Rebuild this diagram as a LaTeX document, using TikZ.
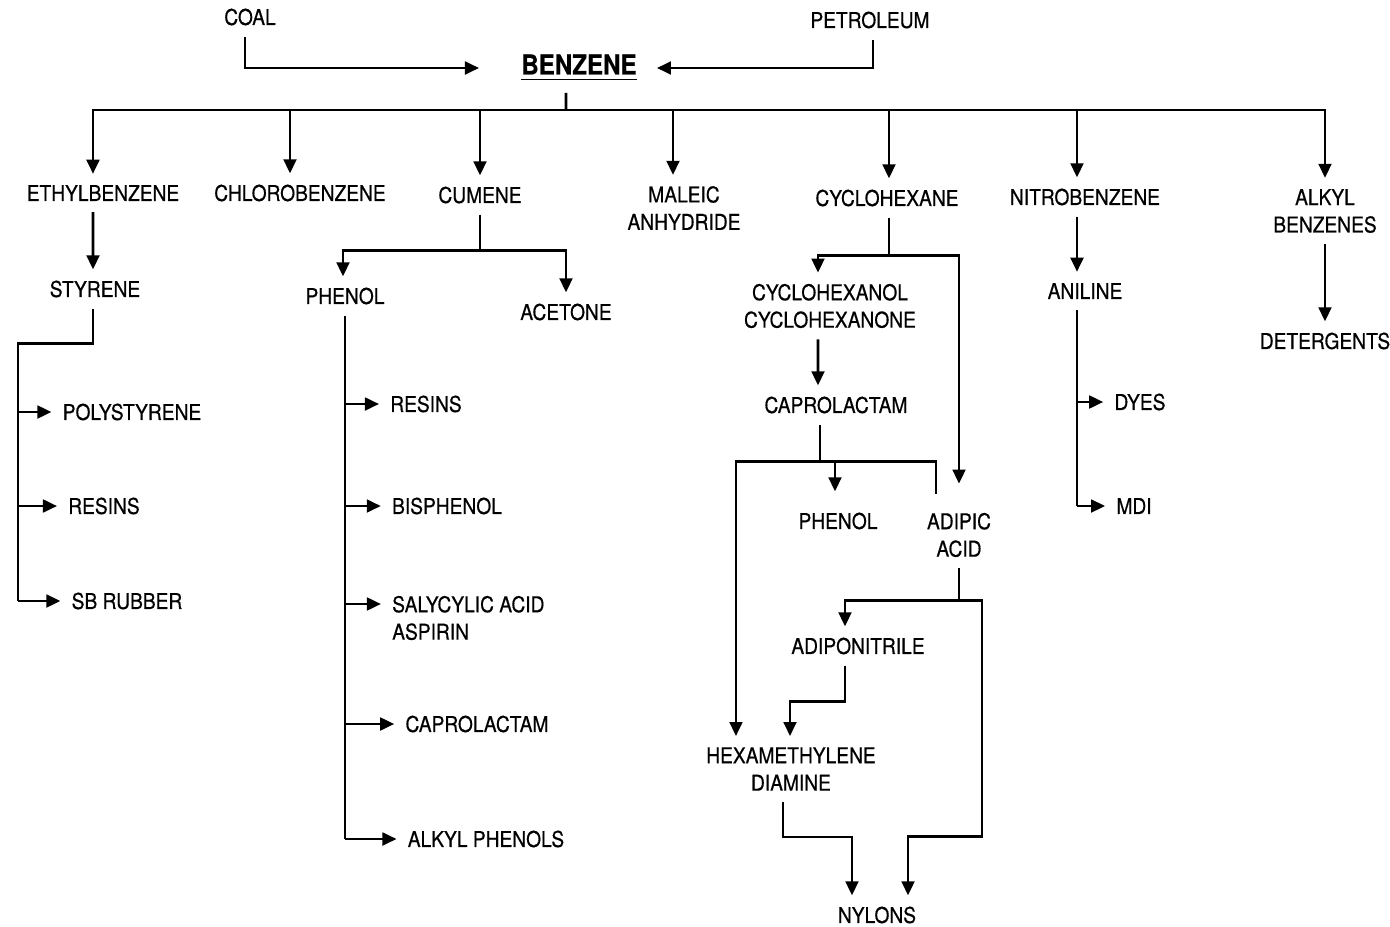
\documentclass[tikz,border=0pt]{standalone}
\usepackage{fontspec}
\setmainfont[FakeStretch=0.88, FakeBold=0.5]{TeX Gyre Heros}
\usetikzlibrary{arrows.meta}

\begin{document}
\begin{tikzpicture}[
    x=0.01cm, y=-0.01cm,
    chem/.style={align=center, inner sep=3pt, font=\fontsize{6.2}{7.8}\selectfont},
    arrow/.style={-{Triangle[length=4pt,width=3.6pt]}, line width=0.8pt},
    wire/.style={line width=0.8pt}
]
    \useasboundingbox (0,0) rectangle (1390,927);

    % Feedstocks
    \node[chem] (coal) at (250,17) {COAL};
    \node[chem] (petro) at (870,20) {PETROLEUM};
    \node[chem, font=\fontsize{7.8}{9}\selectfont\bfseries] (benzene) at (579,68) {\underline{BENZENE}};
    \coordinate (hub) at (566,110);

    % First generation
    \node[chem] (ethyl) at (103,193) {ETHYLBENZENE};
    \node[chem] (chloro) at (300,193) {CHLOROBENZENE};
    \node[chem] (cumene) at (480,195) {CUMENE};
    \node[chem] (maleic) at (684,208) {MALEIC\\ANHYDRIDE};
    \node[chem] (cyclohex) at (887,198) {CYCLOHEXANE};
    \node[chem] (nitro) at (1085,197) {NITROBENZENE};
    \node[chem] (alkylbz) at (1325,211) {ALKYL\\BENZENES};

    % Styrene line
    \node[chem] (styrene) at (95,289) {STYRENE};
    \node[chem] (polyst) at (132,412) {POLYSTYRENE};
    \node[chem] (resinsa) at (104,506) {RESINS};
    \node[chem] (sbr) at (127,601) {SB RUBBER};

    % Phenol line
    \node[chem] (phenola) at (345,296) {PHENOL};
    \node[chem] (acetone) at (566,312) {ACETONE};
    \node[chem] (resinsb) at (426,404) {RESINS};
    \node[chem] (bisphen) at (447,506) {BISPHENOL};
    \node[chem, align=left, anchor=west] (salyc) at (381,618) {SALYCYLIC ACID\\ASPIRIN};
    \node[chem] (caprola) at (477,724) {CAPROLACTAM};
    \node[chem] (alkphen) at (486,839) {ALKYL PHENOLS};

    % Nylon line
    \node[chem] (cyclol) at (830,306) {CYCLOHEXANOL\\CYCLOHEXANONE};
    \node[chem] (caprolb) at (836,405) {CAPROLACTAM};
    \node[chem] (phenolb) at (838,521) {PHENOL};
    \node[chem] (adipic) at (959,535) {ADIPIC\\ACID};
    \node[chem] (adipon) at (858,646) {ADIPONITRILE};
    \node[chem] (hexa) at (791,769) {HEXAMETHYLENE\\DIAMINE};
    \node[chem] (nylons) at (877,915) {NYLONS};

    % Aniline and detergents
    \node[chem] (aniline) at (1085,291) {ANILINE};
    \node[chem] (dyes) at (1140,402) {DYES};
    \node[chem] (mdi) at (1134,506) {MDI};
    \node[chem] (deterg) at (1325,341) {DETERGENTS};

    % Arrows
    \draw[arrow, shorten >=3.1mm] ([xshift=-0.5mm]coal.south) |- (benzene.west);
    \draw[arrow, shorten >=0.9mm] ([xshift=0.3mm]petro.south) |- (benzene.east);

    \draw[wire] ([xshift=-1.3mm]benzene.south) -- (hub);
    \draw[arrow] (hub) -| ([xshift=-1mm]ethyl.north);
    \draw[arrow] (hub) -| ([xshift=-1mm]chloro.north);
    \draw[arrow] (hub) -| (cumene.north);
    \draw[arrow] (hub) -| ([xshift=-1.1mm]maleic.north);
    \draw[arrow] (hub) -| ([xshift=0.2mm]cyclohex.north);
    \draw[arrow] (hub) -| ([xshift=-0.8mm]nitro.north);
    \draw[arrow] (hub) -| (alkylbz.north);

    \draw[arrow] ([xshift=-1mm]ethyl.south) -- ([xshift=-0.2mm]styrene.north);
    \draw[wire] ([xshift=-0.2mm]styrene.south) -- ++(0,35) -- ++(-75,0) coordinate (sttrunk) -- (sttrunk |- sbr.west);
    \draw[arrow] (sttrunk |- polyst.west) -- (polyst.west);
    \draw[arrow] (sttrunk |- resinsa.west) -- (resinsa.west);
    \draw[arrow] (sttrunk |- sbr.west) -- (sbr.west);

    \draw[wire] (cumene.south) -- ++(0,36) coordinate (cmjoin);
    \draw[arrow] (cmjoin) -| ([xshift=-0.2mm]phenola.north);
    \draw[arrow] (cmjoin) -| (acetone.north);
    \draw[wire] (phenola.south) coordinate (phtrunk) -- (phtrunk |- alkphen.west);
    \path ([yshift=1.4mm]salyc.west) coordinate (salycin);
    \draw[arrow] (phtrunk |- resinsb.west) -- (resinsb.west);
    \draw[arrow] (phtrunk |- bisphen.west) -- (bisphen.west);
    \draw[arrow] (phtrunk |- salycin) -- (salycin);
    \draw[arrow] (phtrunk |- caprola.west) -- (caprola.west);
    \draw[arrow] (phtrunk |- alkphen.west) -- (alkphen.west);

    \draw[wire] ([xshift=0.2mm]cyclohex.south) -- ++(0,38) coordinate (chjoin);
    \draw[arrow] (chjoin) -| ([xshift=-1.2mm]cyclol.north);
    \draw[arrow] (chjoin) -| ([yshift=1.8mm]adipic.north);
    \draw[arrow] ([xshift=-1.2mm]cyclol.south) -- ([xshift=-1.8mm]caprolb.north);
    \draw[wire] ([xshift=-1.6mm]caprolb.south) -- ++(0,37) coordinate (cpjoin);
    \draw[arrow] (cpjoin) -| ([xshift=-0.3mm,yshift=1mm]phenolb.north);
    \draw[wire] (cpjoin) -| ++(116,32);
    \draw[arrow] (cpjoin) -| ([xshift=-5.5mm]hexa.north);
    \draw[wire] (adipic.south) -- ++(0,32) coordinate (adjoin);
    \draw[arrow] (adjoin) -| ([xshift=-1.3mm]adipon.north);
    \draw[arrow] (adjoin) -| ++(23,236) -| ([xshift=3.1mm]nylons.north);
    \draw[arrow] ([xshift=-1.3mm]adipon.south) -- ++(0,36) -| ([xshift=-0.1mm]hexa.north);
    \draw[arrow] ([xshift=-0.8mm]hexa.south) -- ++(0,35) -| ([xshift=-2.5mm]nylons.north);

    \draw[arrow] ([xshift=-0.8mm]nitro.south) -- ([xshift=-0.8mm]aniline.north);
    \draw[wire] ([xshift=-0.8mm]aniline.south) coordinate (antrunk) -- (antrunk |- mdi.west);
    \draw[arrow] (antrunk |- dyes.west) -- (dyes.west);
    \draw[arrow] (antrunk |- mdi.west) -- (mdi.west);

    \draw[arrow] (alkylbz.south) -- (deterg.north);

\end{tikzpicture}
\end{document}
